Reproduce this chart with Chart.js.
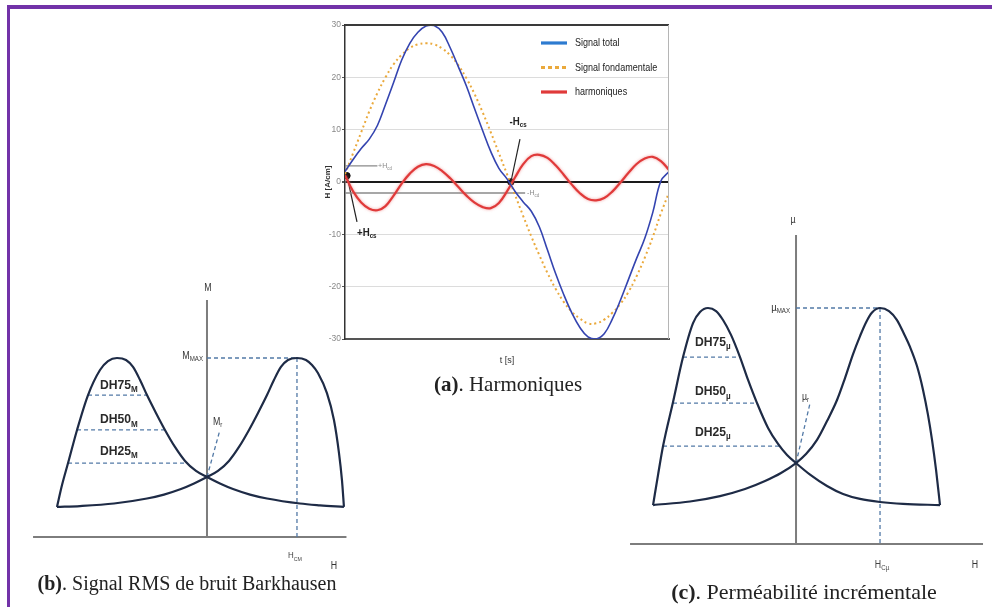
<!DOCTYPE html>
<html lang="fr">
<head>
<meta charset="utf-8">
<title>Harmoniques, bruit Barkhausen et perméabilité incrémentale</title>
<script src="https://cdn.jsdelivr.net/npm/chart.js@4.4.1/dist/chart.umd.min.js"></script>
<style>
  html, body { margin: 0; padding: 0; background: #fff; }
  body { width: 992px; height: 607px; position: relative; overflow: hidden; }
  .cadre { position: absolute; left: 7px; top: 5px; width: 1000px; height: 620px;
           border-left: 3px solid #7232a8; border-top: 4px solid #7232a8; }
  canvas { position: absolute; }
  #graphA { left: 318px; top: 12px; }
  #graphB { left: 20px; top: 270px; }
  #graphC { left: 615px; top: 200px; }
  .legende { position: absolute; color: #222; white-space: nowrap; line-height: 1;
             transform: translateX(-50%); font-family: 'Liberation Serif', 'DejaVu Serif', serif; }
</style>
</head>
<body>
<div class="cadre"></div>
<canvas id="graphB" width="345" height="305"></canvas>
<canvas id="graphC" width="377" height="385"></canvas>
<canvas id="graphA" width="360" height="362"></canvas>
<div class="legende" style="left:508px; top:374px; font-size:21px;"><b>(a)</b>. Harmoniques</div>
<div class="legende" style="left:187px; top:573px; font-size:20px;"><b>(b)</b>. Signal RMS de bruit Barkhausen</div>
<div class="legende" style="left:804px; top:581px; font-size:22px;"><b>(c)</b>. Perméabilité incrémentale</div>

<script>
// (a) champ H sur une période
const tempsA = [0, 0.025, 0.05, 0.075, 0.1, 0.125, 0.15, 0.175, 0.2, 0.225, 0.25, 0.275, 0.3, 0.325,
  0.35, 0.375, 0.4, 0.425, 0.45, 0.475, 0.5, 0.525, 0.55, 0.575, 0.6, 0.625, 0.65, 0.675, 0.7,
  0.725, 0.75, 0.775, 0.8, 0.825, 0.85, 0.875, 0.9, 0.925, 0.95, 0.975, 1];
const signalTotal = [2, 4.3, 6.4, 8.2, 10.8, 14.8, 19, 23.3, 26.5, 28.6, 29.8, 29.9, 28.6, 25.6,
  22, 18.3, 14, 9.8, 5.8, 2.6, 0.6, -1.8, -3.8, -5.6, -8.6, -13, -17.5, -21.5, -25,
  -27.8, -29.6, -30, -29, -26.2, -22.6, -18.6, -14.6, -10.8, -5.8, 0.2, 2];
const signalFondamental = [1.5, 5.5, 9.5, 13.5, 17, 20, 22.5, 24.3, 25.6, 26.3, 26.5, 26.3, 25.5, 24.2,
  22.3, 19.8, 16.8, 13.3, 9.5, 5.5, 1.5, -2.5, -6.5, -10.4, -14, -17.4, -20.4, -22.9, -24.8,
  -26.1, -27, -27, -26.3, -25, -23.3, -21, -18, -14.5, -10.5, -6, -2];
const harmoniques = [1.3, -1.8, -3.9, -5.1, -5.4, -4.6, -2.6, -0.3, 1.6, 2.9, 3.4, 3.07, 2.1, 0.7,
  -0.97, -2.6, -3.95, -4.8, -5, -4, -1.8, 0.9, 3.4, 4.95, 5.2, 4.6, 3.2, 1.4, -0.5,
  -2.15, -3.25, -3.5, -3.06, -1.84, -0.1, 1.77, 3.43, 4.5, 4.8, 4, 2.3];
const graduationsH = [-30, -20, -10, 0, 10, 20, 30];
const tempsCroisement = [0.006, 0.512];
const champCroisement = [1.2, 0];
const niveauxHcd = [3.1, -2.1];
const finHcd = [0.1, 0.556];

// (b) signal RMS de bruit Barkhausen (H en unités de H_CM, M en dixièmes de M_MAX)
const hB_gauche = [-1.667, -1.611, -1.544, -1.444, -1.322, -1.189, -1.1, -1.0, -0.9, -0.822, -0.744, -0.667,
  -0.567, -0.467, -0.356, -0.244, -0.122, 0, 0.144, 0.289, 0.478, 0.667, 1.033, 1.256, 1.522];
const mB_gauche = [1.68, 2.9, 4.13, 5.98, 7.93, 9.33, 9.83, 10, 9.89, 9.5, 8.77, 7.93,
  6.93, 5.98, 5.03, 4.25, 3.69, 3.35, 2.99, 2.68, 2.37, 2.15, 1.87, 1.77, 1.68];
const hB_droite = [-1.667, -1.411, -1.033, -0.667, -0.478, -0.289, -0.144, 0, 0.122, 0.244, 0.356, 0.467,
  0.567, 0.667, 0.744, 0.822, 0.9, 1.0, 1.1, 1.167, 1.233, 1.333, 1.411, 1.467, 1.5, 1.522];
const mB_droite = [1.68, 1.73, 1.87, 2.15, 2.37, 2.68, 2.99, 3.35, 3.69, 4.25, 5.03, 5.98,
  6.93, 7.93, 8.77, 9.5, 9.89, 10, 9.89, 9.61, 9.16, 8.04, 6.54, 4.69, 3.18, 1.68];
const niveauxDH_B = [7.93, 5.98, 4.13];
const debutDH_B = [-1.322, -1.444, -1.544];
const finDH_B = [-0.667, -0.467, -0.228];
const remanentB = [[0, 3.35], [0.144, 5.98]];

// (c) perméabilité incrémentale (H en unités de H_Cµ, µ en dixièmes de µ_MAX)
const hC_gauche = [-1.702, -1.643, -1.583, -1.464, -1.345, -1.226, -1.143, -1.048, -0.952, -0.869, -0.774,
  -0.667, -0.571, -0.464, -0.333, -0.214, -0.107, 0, 0.167, 0.369, 0.56, 0.762, 1.0, 1.274, 1.714];
const uC_gauche = [1.65, 2.92, 4.15, 6.02, 7.92, 9.36, 9.83, 10, 9.87, 9.49, 8.86,
  7.92, 6.95, 5.97, 4.92, 4.24, 3.77, 3.43, 2.94, 2.46, 2.12, 1.91, 1.78, 1.7, 1.65];
const hC_droite = [-1.702, -1.262, -0.905, -0.607, -0.369, -0.179, 0, 0.119, 0.25, 0.369, 0.488, 0.583,
  0.679, 0.762, 0.833, 0.905, 1.0, 1.107, 1.202, 1.286, 1.357, 1.44, 1.512, 1.571, 1.619, 1.667, 1.714];
const uC_droite = [1.65, 1.8, 2.03, 2.33, 2.67, 3.01, 3.43, 3.81, 4.41, 5.21, 6.1, 7.03,
  8.05, 8.81, 9.39, 9.81, 10, 9.87, 9.49, 8.9, 8.35, 7.54, 6.53, 5.47, 4.41, 3.14, 1.65];
const niveauxDH_C = [7.92, 5.97, 4.15];
const debutDH_C = [-1.345, -1.464, -1.583];
const finDH_C = [-0.667, -0.464, -0.195];
const remanentC = [[0, 3.43], [0.167, 5.97]];

const POLICE = "'Liberation Sans', 'DejaVu Sans', sans-serif";
Chart.defaults.font.family = POLICE;

const serie = (xs, ys) => xs.map((x, i) => ({ x, y: ys[i] }));

// texte (éventuellement avec indice), resserré horizontalement
function texteIndice(ctx, e, px, py) {
  const poids = e.gras ? 'bold ' : '';
  const sx = e.sx || 0.88;
  const f = poids + e.taille + 'px ' + POLICE;
  const fs = poids + Math.round(e.taille * 0.66) + 'px ' + POLICE;
  ctx.save();
  ctx.font = f;
  const w1 = ctx.measureText(e.t).width * sx;
  ctx.font = fs;
  const w2 = e.s ? ctx.measureText(e.s).width * sx : 0;
  let x0 = px;
  if (e.align === 'center') x0 = px - (w1 + w2) / 2;
  else if (e.align === 'right') x0 = px - w1 - w2;
  ctx.translate(x0, py);
  ctx.scale(sx, 1);
  ctx.fillStyle = e.couleur || '#222';
  ctx.textAlign = 'left';
  ctx.textBaseline = 'middle';
  ctx.font = f;
  ctx.fillText(e.t, 0, 0);
  if (e.s) {
    ctx.font = fs;
    ctx.fillText(e.s, w1 / sx, e.taille * 0.32);
  }
  ctx.restore();
}

function dessinerEtiquettes(chart, liste) {
  const { x, y } = chart.scales;
  liste.forEach(e => texteIndice(chart.ctx, e, x.getPixelForValue(e.h), y.getPixelForValue(e.v)));
}

// ---------- (a) Harmoniques ----------
const etiquettesA = [
  { t: '+H', s: 'cd', h: 0.102, v: 3.1, taille: 8, couleur: '#8a8a8a' },
  { t: '-H', s: 'cd', h: 0.562, v: -2.1, taille: 8, couleur: '#8a8a8a' },
  { t: '+H', s: 'cs', h: 0.037, v: -9.75, taille: 11, gras: true },
  { t: '-H', s: 'cs', h: 0.508, v: 11.5, taille: 11, gras: true }
];

const decorA = {
  id: 'decorA',
  beforeDatasetDraw(chart, args) {
    if (args.index === 2) {
      chart.ctx.save();
      chart.ctx.shadowColor = 'rgba(235, 110, 110, 0.7)';
      chart.ctx.shadowBlur = 3;
    }
  },
  afterDatasetDraw(chart, args) {
    if (args.index === 2) chart.ctx.restore();
  },
  afterDraw(chart) {
    const ctx = chart.ctx;
    const ca = chart.chartArea;
    ctx.save();
    // cadre haut et droit
    ctx.strokeStyle = '#3a3a3a';
    ctx.lineWidth = 2;
    ctx.beginPath();
    ctx.moveTo(ca.left, ca.top);
    ctx.lineTo(ca.right, ca.top);
    ctx.stroke();
    ctx.strokeStyle = '#b5b5b5';
    ctx.lineWidth = 1;
    ctx.beginPath();
    ctx.moveTo(ca.right - 0.5, ca.top);
    ctx.lineTo(ca.right - 0.5, ca.bottom);
    ctx.stroke();

    // légende
    chart.data.datasets.slice(0, 3).forEach((ds, i) => {
      const yy = ca.top + 18 + i * 24.5;
      ctx.strokeStyle = ds.couleurLegende || ds.borderColor;
      ctx.lineWidth = 3.2;
      ctx.setLineDash(ds.borderDash ? [4, 3] : []);
      ctx.beginPath();
      ctx.moveTo(ca.left + 196, yy);
      ctx.lineTo(ca.left + 222, yy);
      ctx.stroke();
      ctx.setLineDash([]);
      texteIndice(ctx, { t: ds.label, taille: 11, sx: 0.82 }, ca.left + 230, yy);
    });
    ctx.restore();
    dessinerEtiquettes(chart, etiquettesA);
  }
};

const repere = { borderColor: '#8a8a8a', borderWidth: 1.3, pointRadius: 0, showLine: true };
new Chart(document.getElementById('graphA'), {
  type: 'scatter',
  data: {
    datasets: [
      { label: 'Signal total', data: serie(tempsA, signalTotal), showLine: true,
        borderColor: '#3444b0', couleurLegende: '#2d7bd0', borderWidth: 1.6, pointRadius: 0, tension: 0.4 },
      { label: 'Signal fondamentale', data: serie(tempsA, signalFondamental), showLine: true,
        borderColor: '#eaa93c', borderWidth: 2, borderDash: [2, 3], pointRadius: 0, tension: 0.4 },
      { label: 'harmoniques', data: serie(tempsA, harmoniques), showLine: true,
        borderColor: '#e03a3a', borderWidth: 2.2, pointRadius: 0, tension: 0.4 },
      { label: 'croisements', data: serie(tempsCroisement, champCroisement),
        backgroundColor: '#111', borderColor: '#111', pointRadius: 3.2 },
      { ...repere, label: '+Hcd', data: [{ x: 0, y: niveauxHcd[0] }, { x: finHcd[0], y: niveauxHcd[0] }] },
      { ...repere, label: '-Hcd', data: [{ x: 0, y: niveauxHcd[1] }, { x: finHcd[1], y: niveauxHcd[1] }] },
      { ...repere, label: '+Hcs', borderColor: '#222', borderWidth: 1.2,
        data: [{ x: tempsCroisement[0], y: champCroisement[0] }, { x: 0.037, y: -7.6 }] },
      { ...repere, label: '-Hcs', borderColor: '#222', borderWidth: 1.2,
        data: [{ x: tempsCroisement[1], y: champCroisement[1] }, { x: 0.54, y: 8.2 }] }
    ]
  },
  options: {
    responsive: false,
    animation: false,
    layout: { padding: { top: 13, right: 9, left: 0, bottom: 0 } },
    plugins: { legend: { display: false }, tooltip: { enabled: false } },
    scales: {
      x: {
        type: 'linear', min: 0, max: 1,
        ticks: { display: false },
        grid: { display: false },
        border: { color: '#555', width: 2 },
        title: { display: true, text: 't [s]', color: '#333', font: { size: 9 }, padding: { top: 0, bottom: 8 } },
        afterFit(scale) { scale.height = 35; }
      },
      y: {
        min: -30, max: 30,
        afterBuildTicks(scale) { scale.ticks = graduationsH.map(v => ({ value: v })); },
        ticks: { color: '#888', font: { size: 8.5 }, padding: 1 },
        grid: {
          color: c => (c.tick && c.tick.value === 0 ? '#1a1a1a' : '#dcdcdc'),
          lineWidth: c => (c.tick && c.tick.value === 0 ? 2 : 1),
          tickLength: 3, tickColor: '#555'
        },
        border: { color: '#333', width: 1.5 },
        title: { display: true, text: 'H [A/cm]', color: '#333', font: { size: 8, weight: 'bold' }, padding: 5 },
        afterFit(scale) { scale.width = 27; }
      }
    }
  },
  plugins: [decorA]
});

// ---------- (b) et (c) : courbes en papillon ----------
function papillon(id, o) {
  const pointille = { borderColor: '#5279a6', borderWidth: 1.3, borderDash: [4, 3], pointRadius: 0, showLine: true };
  const trait = { borderColor: '#1e2b46', borderWidth: 2.2, pointRadius: 0, showLine: true, cubicInterpolationMode: 'monotone' };
  const datasets = [
    { ...trait, data: serie(o.hG, o.yG) },
    { ...trait, data: serie(o.hD, o.yD) },
    { ...pointille, data: [{ x: 0, y: 10 }, { x: 1, y: 10 }] },
    { ...pointille, data: [{ x: 1, y: 10 }, { x: 1, y: 0 }] },
    { ...pointille, data: o.remanent.map(([x, y]) => ({ x, y })) },
    ...o.niveaux.map((v, i) => ({ ...pointille, data: [{ x: o.debut[i], y: v }, { x: o.fin[i], y: v }] }))
  ];
  const decor = {
    id: 'decor',
    beforeDatasetsDraw(chart) {
      const { x, y } = chart.scales;
      const ctx = chart.ctx;
      ctx.save();
      ctx.strokeStyle = '#7d7d7d';
      ctx.lineWidth = 2;
      ctx.beginPath();
      ctx.moveTo(x.getPixelForValue(o.axeH[0]), y.getPixelForValue(0));
      ctx.lineTo(x.getPixelForValue(o.axeH[1]), y.getPixelForValue(0));
      ctx.moveTo(x.getPixelForValue(0), y.getPixelForValue(0));
      ctx.lineTo(x.getPixelForValue(0), y.getPixelForValue(o.axeV));
      ctx.stroke();
      ctx.restore();
    },
    afterDatasetsDraw(chart) { dessinerEtiquettes(chart, o.etiquettes); }
  };
  new Chart(document.getElementById(id), {
    type: 'scatter',
    data: { datasets },
    options: {
      responsive: false,
      animation: false,
      layout: { padding: 0 },
      plugins: { legend: { display: false }, tooltip: { enabled: false } },
      scales: {
        x: { type: 'linear', display: false, min: o.xMin, max: o.xMax },
        y: { display: false, min: o.yMin, max: o.yMax }
      }
    },
    plugins: [decor]
  });
}

papillon('graphB', {
  hG: hB_gauche, yG: mB_gauche, hD: hB_droite, yD: mB_droite,
  niveaux: niveauxDH_B, debut: debutDH_B, fin: finDH_B, remanent: remanentB,
  xMin: -2.078, xMax: 1.756, yMin: -2.123, yMax: 14.916,
  axeH: [-1.933, 1.55], axeV: 13.24,
  etiquettes: [
    { t: 'M', h: 0.011, v: 13.91, taille: 10, align: 'center', couleur: '#333' },
    { t: 'M', s: 'MAX', h: -0.044, v: 10.11, taille: 10, align: 'right', couleur: '#333' },
    { t: 'DH75', s: 'M', h: -1.189, v: 8.5, taille: 13.5, gras: true, sx: 0.9, couleur: '#2a2a2a' },
    { t: 'DH50', s: 'M', h: -1.189, v: 6.55, taille: 13.5, gras: true, sx: 0.9, couleur: '#2a2a2a' },
    { t: 'DH25', s: 'M', h: -1.189, v: 4.8, taille: 13.5, gras: true, sx: 0.9, couleur: '#2a2a2a' },
    { t: 'M', s: 'r', h: 0.067, v: 6.42, taille: 10, couleur: '#333' },
    { t: 'H', s: 'CM', h: 0.978, v: -1.06, taille: 9, align: 'center', couleur: '#444' },
    { t: 'H', h: 1.411, v: -1.62, taille: 10, align: 'center', couleur: '#333' }
  ]
});

papillon('graphC', {
  hG: hC_gauche, yG: uC_gauche, hD: hC_droite, yD: uC_droite,
  niveaux: niveauxDH_C, debut: debutDH_C, fin: finDH_C, remanent: remanentC,
  xMin: -2.155, xMax: 2.333, yMin: -1.737, yMax: 14.576,
  axeH: [-1.976, 2.226], axeV: 13.09,
  etiquettes: [
    { t: 'µ', h: -0.036, v: 13.73, taille: 10, align: 'center', couleur: '#333' },
    { t: 'µ', s: 'MAX', h: -0.071, v: 10.0, taille: 11, align: 'right', couleur: '#333' },
    { t: 'DH75', s: 'µ', h: -1.202, v: 8.55, taille: 13.5, gras: true, sx: 0.9, couleur: '#2a2a2a' },
    { t: 'DH50', s: 'µ', h: -1.202, v: 6.45, taille: 13.5, gras: true, sx: 0.9, couleur: '#2a2a2a' },
    { t: 'DH25', s: 'µ', h: -1.202, v: 4.75, taille: 13.5, gras: true, sx: 0.9, couleur: '#2a2a2a' },
    { t: 'µ', s: 'r', h: 0.071, v: 6.23, taille: 10, couleur: '#333' },
    { t: 'H', s: 'Cµ', h: 1.024, v: -0.89, taille: 10, align: 'center', couleur: '#444' },
    { t: 'H', h: 2.131, v: -0.89, taille: 10, align: 'center', couleur: '#333' }
  ]
});
</script>
</body>
</html>
